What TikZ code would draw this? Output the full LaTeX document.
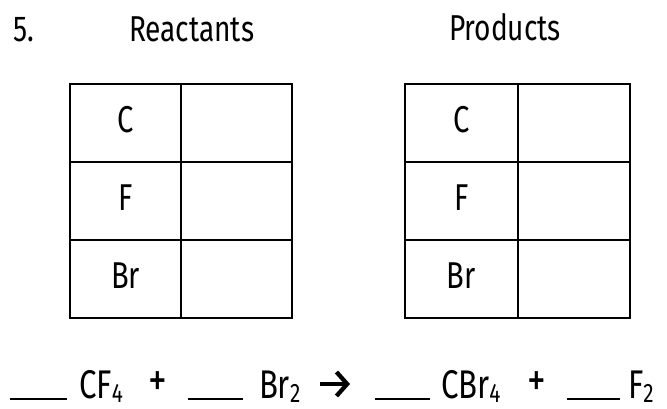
\documentclass[tikz,border=0pt]{standalone}
\usepackage{fontspec}
\setmainfont{Fira Sans}[FakeStretch=0.78]
\usetikzlibrary{calc,arrows.meta}
\newcommand{\chemsub}[1]{\raisebox{-3pt}{\fontsize{20}{20}\selectfont #1}}

\begin{document}
\begin{tikzpicture}[x=0.75pt,y=-0.75pt,line width=1.5pt,
	cell/.style={anchor=base,font=\fontsize{28}{30}\selectfont},
	title/.style={anchor=base west,inner sep=0pt,font=\fontsize{27}{30}\selectfont},
	term/.style={anchor=base west,inner sep=0pt,font=\fontsize{30}{32}\selectfont},
	plus/.style={anchor=center,inner sep=0pt,font=\fontsize{36}{38}\selectfont},
	blank/.style={line width=1.5pt},
	yields/.style={line width=3.2pt,-{Straight Barb[length=8pt,width=18pt]}}]
\useasboundingbox (0,0) rectangle (667,409);

\foreach \t/\x/\w in {r/70/111,p/405/112.5}{
	\foreach \i in {0,1,2}{
		\foreach \j in {0,...,3}{
			\coordinate(\t\i\j) at (\x+\i*\w,84+\j*78);
		}
	}
}

\node[title] (num) at (12,42) {5.};
\node[title] (react) at (128,42) {Reactants};
\node[title] (prod) at (448,41) {Products};

\foreach \t in {r,p}{
	\draw (\t00) rectangle (\t23);
	\draw (\t10)--(\t13);
	\draw (\t01)--(\t21);
	\draw (\t02)--(\t22);
	\node[cell] (\t C) at ($(\t00)!0.5!(\t11)+(0,10)$) {C};
	\node[cell] (\t F) at ($(\t01)!0.5!(\t12)+(0,10)$) {F};
	\node[cell] (\t Br) at ($(\t02)!0.5!(\t13)+(0,10)$) {Br};
}

% equation
\draw[blank] (10,399)--(67,399);
\node[term] (cf) at (78,398) {CF\chemsub{4}};
\node[plus] (plusa) at (158,384) {+};
\draw[blank] (188,399)--(243,399);
\node[term] (br) at (258,398) {Br\chemsub{2}};
\coordinate (ya) at (320,384);
\coordinate (yb) at (350,384);
\draw[yields] (ya)--(yb);
\draw[blank] (375,399)--(430,399);
\node[term] (cbr) at (440,398) {CBr\chemsub{4}};
\node[plus] (plusb) at (537,384) {+};
\draw[blank] (567,399)--(620,399);
\node[term] (f) at (627,398) {F\chemsub{2}};

\end{tikzpicture}
\end{document}
